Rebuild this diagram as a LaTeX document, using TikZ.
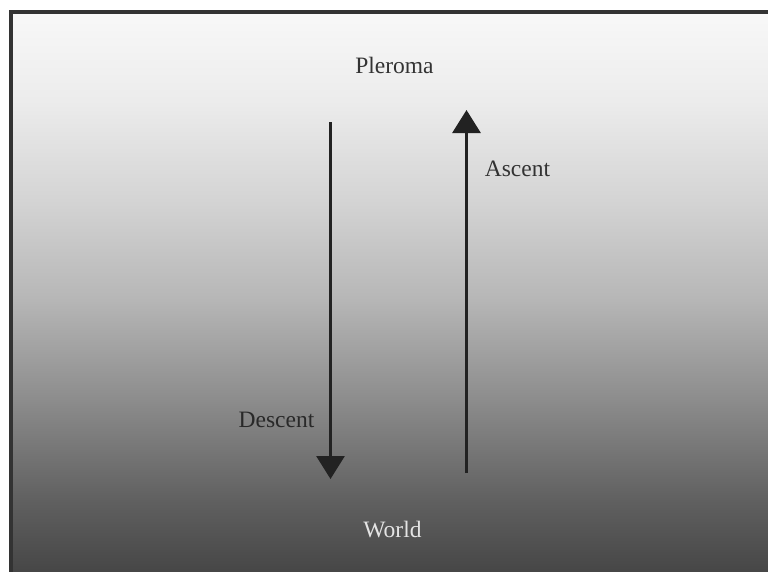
\documentclass[tikz,border=0pt]{standalone}
\usepackage{fontspec}
\setmainfont{Liberation Serif}
\usetikzlibrary{arrows.meta}
\definecolor{g0}{HTML}{F8F8F8}
\definecolor{g1}{HTML}{ECECEC}
\definecolor{g2}{HTML}{D4D4D4}
\definecolor{g3}{HTML}{B6B6B6}
\definecolor{g4}{HTML}{8C8C8C}
\definecolor{g5}{HTML}{606060}
\definecolor{g6}{HTML}{464646}
\definecolor{framec}{HTML}{333333}
\definecolor{arrowc}{HTML}{222222}
\definecolor{darktext}{HTML}{333333}
\definecolor{lighttext}{HTML}{E4E4E4}
\tikzset{
  lbl/.style={font=\fontsize{23.5}{28}\selectfont, anchor=base, inner sep=0pt},
  flow/.style={draw=arrowc, line width=3pt, -{Triangle[width=28pt,length=23pt]}},
}
\begin{document}
\begin{tikzpicture}[x=1pt,y=-1pt]
\useasboundingbox (0,0) rectangle (768,571);
\fill[white] (0,0) rectangle (768,571);
% gradient bands
\shade[top color=g0, bottom color=g1] (11,12) rectangle (770,100.5);
\shade[top color=g1, bottom color=g2] (11,100) rectangle (770,200.5);
\shade[top color=g2, bottom color=g3] (11,200) rectangle (770,300.5);
\shade[top color=g3, bottom color=g4] (11,300) rectangle (770,400.5);
\shade[top color=g4, bottom color=g5] (11,400) rectangle (770,500.5);
\shade[top color=g5, bottom color=g6] (11,500) rectangle (770,573);
% frame
\draw[framec, line width=4pt] (11,580) -- (11,12) -- (780,12);
% labels
\node[lbl, text=darktext] (pleroma) at (394.5,73) {Pleroma};
\node[lbl, text=darktext] (ascent) at (517.5,176) {Ascent};
\node[lbl, text=darktext!80!black] (descent) at (276.5,427) {Descent};
\node[lbl, text=lighttext] (world) at (392.5,537) {World};
% arrows
\coordinate (dtop) at (330.5,122);
\coordinate (dbot) at (330.5,479);
\coordinate (abot) at (466.5,473);
\coordinate (atop) at (466.5,110);
\draw[flow] (dtop) -- (dbot);
\draw[flow] (abot) -- (atop);
\end{tikzpicture}
\end{document}
